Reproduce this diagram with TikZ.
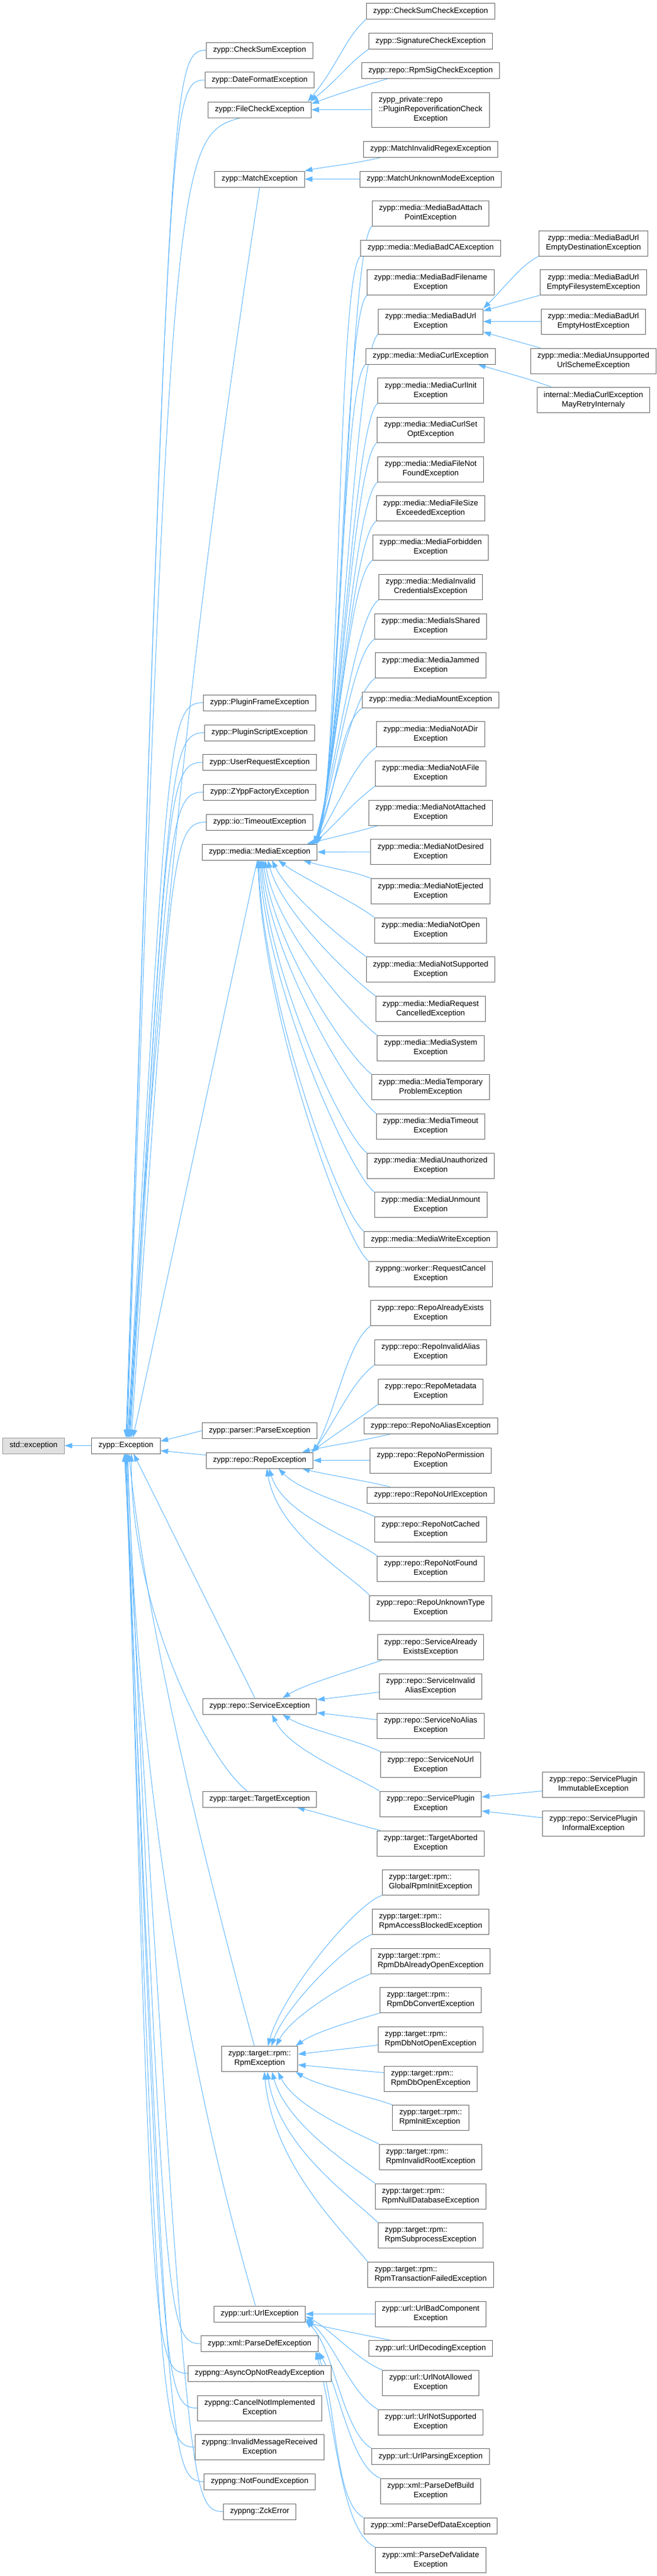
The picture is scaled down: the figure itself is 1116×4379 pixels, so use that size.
\documentclass[tikz,border=0pt]{standalone}
\usepackage{fontspec}
\setmainfont{Liberation Sans}
\usetikzlibrary{arrows.meta,calc,backgrounds}
\definecolor{edgeblue}{HTML}{63B8FF}
\definecolor{nodeborder}{HTML}{666666}
\definecolor{extfill}{HTML}{E0E0E0}
\definecolor{extborder}{HTML}{999999}
\tikzset{
  cls/.style={draw=nodeborder, fill=white, line width=1pt, font=\fontsize{13.2}{16}\selectfont,
    inner xsep=11.5pt, inner ysep=0pt, minimum height=27pt, align=center},
  lines2/.style={minimum height=43pt},
  lines3/.style={minimum height=59pt},
  ext/.style={cls, fill=extfill, draw=extborder},
  inh/.style={draw=edgeblue, line width=1pt, -{Triangle[length=13pt,width=9pt]}},
  bendD/.style={to path={.. controls ($(\tikztostart)+(-60,0)$) and ($(\tikztostart)+(-60,60)$) .. (\tikztotarget) \tikztonodes}},
  bendU/.style={to path={.. controls ($(\tikztostart)+(-60,0)$) and ($(\tikztostart)+(-60,-60)$) .. (\tikztotarget) \tikztonodes}}
}
\begin{document}
\begin{tikzpicture}[x=1pt,y=-1pt]
\useasboundingbox (0,0) rectangle (1116,4379);
% column 1 and 2
\node[ext] (stdex) at (57,2457.5) {std::exception};
\node[cls] (zexc) at (214,2457.5) {zypp::Exception};
% column 3
\node[cls] (checksum) at (441,85.5) {zypp::CheckSumException};
\node[cls] (dateformat) at (441,136) {zypp::DateFormatException};
\node[cls] (filecheck) at (441,186.5) {zypp::FileCheckException};
\node[cls] (match) at (441,304.5) {zypp::MatchException};
\node[cls] (pluginframe) at (441,1194.5) {zypp::PluginFrameException};
\node[cls] (pluginscript) at (441,1245.5) {zypp::PluginScriptException};
\node[cls] (userrequest) at (441,1296) {zypp::UserRequestException};
\node[cls] (zyppfactory) at (441,1346.5) {zypp::ZYppFactoryException};
\node[cls] (iotimeout) at (441,1397.5) {zypp::io::TimeoutException};
\node[cls] (mediaexc) at (441,1448.5) {zypp::media::MediaException};
\node[cls] (parse) at (441,2432) {zypp::parser::ParseException};
\node[cls] (repoexc) at (441,2482.5) {zypp::repo::RepoException};
\node[cls] (serviceexc) at (441,2900.5) {zypp::repo::ServiceException};
\node[cls] (targetexc) at (441,3058.5) {zypp::target::TargetException};
\node[cls,lines2] (rpmexc) at (441,3500) {zypp::target::rpm::\\RpmException};
\node[cls] (urlexc) at (441,3933.5) {zypp::url::UrlException};
\node[cls] (parsedef) at (441,3984) {zypp::xml::ParseDefException};
\node[cls] (asyncop) at (441,4034.5) {zyppng::AsyncOpNotReadyException};
\node[cls,lines2] (cancelni) at (441,4093.5) {zyppng::CancelNotImplemented\\Exception};
\node[cls,lines2] (invalidmsg) at (441,4160) {zyppng::InvalidMessageReceived\\Exception};
\node[cls] (notfound) at (441,4218.5) {zyppng::NotFoundException};
\node[cls] (zckerror) at (441,4269.5) {zyppng::ZckError};
% column 4
\node[cls] (cscheck) at (731.5,19) {zypp::CheckSumCheckException};
\node[cls] (sigcheck) at (731.5,70) {zypp::SignatureCheckException};
\node[cls] (rpmsig) at (731.5,120) {zypp::repo::RpmSigCheckException};
\node[cls,lines3] (pluginrepo) at (731.5,186.5) {\rlap{zypp\_private::repo}\phantom{::PluginRepoverificationCheck}\\::PluginRepoverificationCheck\\Exception};
\node[cls] (matchinvalid) at (731.5,253.5) {zypp::MatchInvalidRegexException};
\node[cls] (matchunknown) at (731.5,304.5) {zypp::MatchUnknownModeException};
\node[cls,lines2] (badattach) at (731.5,362.5) {zypp::media::MediaBadAttach\\PointException};
\node[cls] (badca) at (731.5,421.5) {zypp::media::MediaBadCAException};
\node[cls,lines2] (badfilename) at (731.5,480) {zypp::media::MediaBadFilename\\Exception};
\node[cls,lines2] (badurl) at (731.5,546.5) {zypp::media::MediaBadUrl\\Exception};
\node[cls] (curl) at (731.5,605.5) {zypp::media::MediaCurlException};
\node[cls,lines2] (curlinit) at (731.5,664) {zypp::media::MediaCurlInit\\Exception};
\node[cls,lines2] (curlsetopt) at (731.5,730.5) {zypp::media::MediaCurlSet\\OptException};
\node[cls,lines2] (filenotfound) at (731.5,797.5) {zypp::media::MediaFileNot\\FoundException};
\node[cls,lines2] (filesize) at (731.5,864) {zypp::media::MediaFileSize\\ExceededException};
\node[cls,lines2] (forbidden) at (731.5,930.5) {zypp::media::MediaForbidden\\Exception};
\node[cls,lines2] (invalidcred) at (731.5,997.5) {zypp::media::MediaInvalid\\CredentialsException};
\node[cls,lines2] (isshared) at (731.5,1064.5) {zypp::media::MediaIsShared\\Exception};
\node[cls,lines2] (jammed) at (731.5,1131) {zypp::media::MediaJammed\\Exception};
\node[cls] (mount) at (731.5,1189.5) {zypp::media::MediaMountException};
\node[cls,lines2] (notadir) at (731.5,1248) {zypp::media::MediaNotADir\\Exception};
\node[cls,lines2] (notafile) at (731.5,1314.5) {zypp::media::MediaNotAFile\\Exception};
\node[cls,lines2] (notattached) at (731.5,1381.5) {zypp::media::MediaNotAttached\\Exception};
\node[cls,lines2] (notdesired) at (731.5,1448) {zypp::media::MediaNotDesired\\Exception};
\node[cls,lines2] (notejected) at (731.5,1515) {zypp::media::MediaNotEjected\\Exception};
\node[cls,lines2] (notopen) at (731.5,1581.5) {zypp::media::MediaNotOpen\\Exception};
\node[cls,lines2] (notsupported) at (731.5,1648) {zypp::media::MediaNotSupported\\Exception};
\node[cls,lines2] (reqcancelled) at (731.5,1715) {zypp::media::MediaRequest\\CancelledException};
\node[cls,lines2] (system) at (731.5,1781.5) {zypp::media::MediaSystem\\Exception};
\node[cls,lines2] (temporary) at (731.5,1848) {zypp::media::MediaTemporary\\ProblemException};
\node[cls,lines2] (timeout) at (731.5,1914.5) {zypp::media::MediaTimeout\\Exception};
\node[cls,lines2] (unauthorized) at (731.5,1981.5) {zypp::media::MediaUnauthorized\\Exception};
\node[cls,lines2] (unmount) at (731.5,2048) {zypp::media::MediaUnmount\\Exception};
\node[cls] (write) at (731.5,2107) {zypp::media::MediaWriteException};
\node[cls,lines2] (workercancel) at (731.5,2165.5) {zyppng::worker::RequestCancel\\Exception};
\node[cls,lines2] (repoalready) at (731.5,2232) {zypp::repo::RepoAlreadyExists\\Exception};
\node[cls,lines2] (repoinvalid) at (731.5,2298.5) {zypp::repo::RepoInvalidAlias\\Exception};
\node[cls,lines2] (repometa) at (731.5,2365.5) {zypp::repo::RepoMetadata\\Exception};
\node[cls] (reponoalias) at (731.5,2424) {zypp::repo::RepoNoAliasException};
\node[cls,lines2] (reponoperm) at (731.5,2482.5) {zypp::repo::RepoNoPermission\\Exception};
\node[cls] (reponourl) at (731.5,2541.5) {zypp::repo::RepoNoUrlException};
\node[cls,lines2] (reponotcached) at (731.5,2600) {zypp::repo::RepoNotCached\\Exception};
\node[cls,lines2] (reponotfound) at (731.5,2666.5) {zypp::repo::RepoNotFound\\Exception};
\node[cls,lines2] (repounknown) at (731.5,2733.5) {zypp::repo::RepoUnknownType\\Exception};
\node[cls,lines2] (svcalready) at (731.5,2800) {zypp::repo::ServiceAlready\\ExistsException};
\node[cls,lines2] (svcinvalid) at (731.5,2866.5) {zypp::repo::ServiceInvalid\\AliasException};
\node[cls,lines2] (svcnoalias) at (731.5,2933.5) {zypp::repo::ServiceNoAlias\\Exception};
\node[cls,lines2] (svcnourl) at (731.5,3000) {zypp::repo::ServiceNoUrl\\Exception};
\node[cls,lines2] (svcplugin) at (731.5,3066.5) {zypp::repo::ServicePlugin\\Exception};
\node[cls,lines2] (targetaborted) at (731.5,3133.5) {zypp::target::TargetAborted\\Exception};
\node[cls,lines2,align=left] (globalrpm) at (731.5,3200) {zypp::target::rpm::\\GlobalRpmInitException};
\node[cls,lines2,align=left] (rpmaccess) at (731.5,3266.5) {zypp::target::rpm::\\RpmAccessBlockedException};
\node[cls,lines2,align=left] (rpmdbalready) at (731.5,3333.5) {zypp::target::rpm::\\RpmDbAlreadyOpenException};
\node[cls,lines2,align=left] (rpmdbconvert) at (731.5,3400) {zypp::target::rpm::\\RpmDbConvertException};
\node[cls,lines2,align=left] (rpmdbnotopen) at (731.5,3466.5) {zypp::target::rpm::\\RpmDbNotOpenException};
\node[cls,lines2,align=left] (rpmdbopen) at (731.5,3533.5) {zypp::target::rpm::\\RpmDbOpenException};
\node[cls,lines2,align=left] (rpminit) at (731.5,3600) {zypp::target::rpm::\\RpmInitException};
\node[cls,lines2,align=left] (rpminvalidroot) at (731.5,3666.5) {zypp::target::rpm::\\RpmInvalidRootException};
\node[cls,lines2,align=left] (rpmnulldb) at (731.5,3733.5) {zypp::target::rpm::\\RpmNullDatabaseException};
\node[cls,lines2,align=left] (rpmsubprocess) at (731.5,3800) {zypp::target::rpm::\\RpmSubprocessException};
\node[cls,lines2,align=left] (rpmtransaction) at (731.5,3866.5) {zypp::target::rpm::\\RpmTransactionFailedException};
\node[cls,lines2] (urlbadcomp) at (731.5,3933.5) {zypp::url::UrlBadComponent\\Exception};
\node[cls] (urldecoding) at (731.5,3992) {zypp::url::UrlDecodingException};
\node[cls,lines2] (urlnotallowed) at (731.5,4050.5) {zypp::url::UrlNotAllowed\\Exception};
\node[cls,lines2] (urlnotsupported) at (731.5,4117.5) {zypp::url::UrlNotSupported\\Exception};
\node[cls] (urlparsing) at (731.5,4176) {zypp::url::UrlParsingException};
\node[cls,lines2] (pdbuild) at (731.5,4234.5) {zypp::xml::ParseDefBuild\\Exception};
\node[cls] (pddata) at (731.5,4293.5) {zypp::xml::ParseDefDataException};
\node[cls,lines2] (pdvalidate) at (731.5,4352) {zypp::xml::ParseDefValidate\\Exception};
% column 5
\node[cls,lines2] (emptydest) at (1008,413.5) {zypp::media::MediaBadUrl\\EmptyDestinationException};
\node[cls,lines2] (emptyfs) at (1008,480) {zypp::media::MediaBadUrl\\EmptyFilesystemException};
\node[cls,lines2] (emptyhost) at (1008,546.5) {zypp::media::MediaBadUrl\\EmptyHostException};
\node[cls,lines2] (unsupported) at (1008,613.5) {zypp::media::MediaUnsupported\\UrlSchemeException};
\node[cls,lines2] (mayretry) at (1008,680) {internal::MediaCurlException\\MayRetryInternaly};
\node[cls,lines2] (svcimmutable) at (1008,3033.5) {zypp::repo::ServicePlugin\\ImmutableException};
\node[cls,lines2] (svcinformal) at (1008,3100) {zypp::repo::ServicePlugin\\InformalException};

\begin{pgfonlayer}{background}
\draw[inh] (zexc.west) -- (stdex.east);
% children of zypp::Exception above it
\draw[inh] (checksum.west) to[bendD] ([xshift=0pt]zexc.north);
\draw[inh] (dateformat.west) to[bendD] ([xshift=1pt]zexc.north);
\draw[inh] ([xshift=-33pt]filecheck.south) .. controls (300,230) and (290,260) .. ([xshift=2pt]zexc.north);
\draw[inh] (match.south) .. controls (332,1017) and (257,1744) .. ([xshift=4pt]zexc.north);
\draw[inh] (pluginframe.west) to[bendD] ([xshift=3pt]zexc.north);
\draw[inh] (pluginscript.west) to[bendD] ([xshift=5pt]zexc.north);
\draw[inh] (userrequest.west) to[bendD] ([xshift=6pt]zexc.north);
\draw[inh] (zyppfactory.west) to[bendD] ([xshift=7pt]zexc.north);
\draw[inh] (iotimeout.west) to[bendD] ([xshift=9pt]zexc.north);
\draw[inh] ([xshift=-4pt]mediaexc.south) -- ([xshift=12pt]zexc.north);
% children of zypp::Exception beside and below it
\draw[inh] (parse.west) -- ([yshift=7.5pt]zexc.east);
\draw[inh] ([yshift=9pt]repoexc.west) -- ([yshift=-8.5pt]zexc.east);
\draw[inh] ([xshift=-8pt]serviceexc.north) -- ([xshift=13pt]zexc.south);
\draw[inh] ([xshift=-21pt]targetexc.north) .. controls (360,3000) and (223,2750) .. ([xshift=9pt]zexc.south);
\draw[inh] ([xshift=-9pt]rpmexc.north) .. controls (351,3179) and (249,2771) .. ([xshift=5pt]zexc.south);
\draw[inh] ([xshift=-7pt]urlexc.north) .. controls (303,3470) and (230,2950) .. ([xshift=3pt]zexc.south);
\draw[inh] (parsedef.west) to[bendU] ([xshift=2pt]zexc.south);
\draw[inh] (asyncop.west) to[bendU] ([xshift=1pt]zexc.south);
\draw[inh] (cancelni.west) to[bendU] ([xshift=0pt]zexc.south);
\draw[inh] (invalidmsg.west) to[bendU] ([xshift=-1pt]zexc.south);
\draw[inh] (notfound.west) to[bendU] ([xshift=-2pt]zexc.south);
\draw[inh] (zckerror.west) to[bendU] ([xshift=-3pt]zexc.south);
% FileCheckException
\draw[inh] (cscheck.south west) .. controls +(-35,30) and +(50,-60) .. ([xshift=-6pt]filecheck.north east);
\draw[inh] (sigcheck.south west) .. controls +(-30,20) and +(50,-40) .. ([xshift=-2pt]filecheck.north east);
\draw[inh] ([xshift=44pt]rpmsig.south west) .. controls +(-50,15) and +(40,-15) .. ([yshift=-4pt]filecheck.north east);
\draw[inh] (pluginrepo.west) -- (filecheck.east);
% MatchException
\draw[inh] ([xshift=31pt]matchinvalid.south west) .. controls +(-50,12) and +(40,-8) .. (match.north east);
\draw[inh] (matchunknown.west) -- (match.east);
% MediaBadUrlException, MediaCurlException
\draw[inh] (emptydest.south west) .. controls +(-30,15) and +(40,-40) .. (badurl.north east);
\draw[inh] (emptyfs.south west) -- ([yshift=-4pt]badurl.north east);
\draw[inh] (emptyhost.west) -- (badurl.east);
\draw[inh] ([xshift=17pt]unsupported.north west) -- ([yshift=4pt]badurl.south east);
\draw[inh] ([xshift=25pt]mayretry.north west) .. controls +(-40,-15) and +(50,15) .. ([xshift=-30pt]curl.south east);
% MediaException
\foreach \n/\k/\v in {badattach/0/150, badca/0.5/150, badfilename/1/150, badurl/1.5/150, curl/2/150, curlinit/2.5/150, curlsetopt/3/150, filenotfound/3.5/150, filesize/4/150, forbidden/4.5/150, invalidcred/5/146, isshared/5.5/123, jammed/6/100, mount/6.5/82, notadir/7/58, notafile/7.5/35}
  \draw[inh] (\n.south west) .. controls +(-40,30) and +(40,-\v) .. ([xshift=-\k pt]mediaexc.north east);
\draw[inh] ([xshift=16pt]notattached.south west) .. controls +(-40,12) and +(40,-10) .. ([xshift=-18pt]mediaexc.north east);
\draw[inh] (notdesired.west) -- (mediaexc.east);
\draw[inh] (notejected.north west) .. controls +(-30,-12) and +(40,12) .. ([xshift=-24pt]mediaexc.south east);
\foreach \n/\k/\a/\v in {notopen/32/40/30, notsupported/21/30/60, reqcancelled/14/25/90, system/9/20/120, temporary/6/20/150, timeout/4/15/170, unauthorized/2/15/200, unmount/0/12/220, write/-2/10/250, workercancel/-3/10/270}
  \draw[inh] (\n.north west) .. controls +(-40,-30) and +(\a,\v) .. ([xshift=\k pt]mediaexc.south);
% RepoException
\foreach \n/\k/\v in {repoalready/0/75, repoinvalid/2/52, repometa/4/30}
  \draw[inh] (\n.south west) .. controls +(-40,30) and +(40,-\v) .. ([xshift=-\k pt]repoexc.north east);
\draw[inh] ([xshift=45pt]reponoalias.south west) .. controls +(-50,12) and +(40,-10) .. ([xshift=-19pt]repoexc.north east);
\draw[inh] (reponoperm.west) -- (repoexc.east);
\draw[inh] ([xshift=39pt]reponourl.north west) .. controls +(-50,-12) and +(40,10) .. ([xshift=-19pt]repoexc.south east);
\draw[inh] (reponotcached.north west) .. controls +(-40,-20) and +(40,40) .. ([xshift=32pt]repoexc.south);
\draw[inh] (reponotfound.north west) .. controls +(-40,-30) and +(25,80) .. ([xshift=16pt]repoexc.south);
\draw[inh] (repounknown.north west) .. controls +(-40,-40) and +(20,110) .. ([xshift=12pt]repoexc.south);
% ServiceException
\draw[inh] ([xshift=8pt]svcalready.south west) .. controls +(-40,15) and +(40,-25) .. ([xshift=39pt]serviceexc.north);
\draw[inh] ([yshift=-10pt]svcinvalid.west) -- ([yshift=-3pt]serviceexc.north east);
\draw[inh] ([yshift=10pt]svcnoalias.west) -- ([yshift=3pt]serviceexc.south east);
\draw[inh] ([xshift=1pt]svcnourl.north west) .. controls +(-40,-20) and +(40,25) .. ([xshift=39pt]serviceexc.south);
\draw[inh] (svcplugin.north west) .. controls +(-50,-30) and +(30,60) .. ([xshift=21pt]serviceexc.south);
\draw[inh] ([yshift=-11pt]svcimmutable.west) -- ([yshift=12pt]svcplugin.east);
\draw[inh] ([yshift=10pt]svcinformal.west) -- ([yshift=-12pt]svcplugin.east);
% TargetException
\draw[inh] ([xshift=6pt]targetaborted.north west) .. controls +(-40,-10) and +(40,10) .. ([xshift=-34pt]targetexc.south east);
% RpmException
\draw[inh] (globalrpm.south west) .. controls +(-45,15) and +(25,-90) .. ([xshift=14pt]rpmexc.north);
\draw[inh] (rpmaccess.south west) .. controls +(-40,15) and +(25,-70) .. ([xshift=20pt]rpmexc.north);
\draw[inh] (rpmdbalready.south west) .. controls +(-40,15) and +(25,-50) .. ([xshift=28pt]rpmexc.north);
\draw[inh] (rpmdbconvert.south west) .. controls +(-40,12) and +(35,-25) .. ([xshift=-4pt]rpmexc.north east);
\draw[inh] ([yshift=-10pt]rpmdbnotopen.west) -- ([yshift=8pt]rpmexc.east);
\draw[inh] ([yshift=10pt]rpmdbopen.west) -- ([yshift=-10pt]rpmexc.east);
\draw[inh] (rpminit.north west) .. controls +(-40,-15) and +(40,25) .. ([xshift=-4pt]rpmexc.south east);
\draw[inh] (rpminvalidroot.north west) .. controls +(-40,-20) and +(30,60) .. ([xshift=31pt]rpmexc.south);
\draw[inh] (rpmnulldb.north west) .. controls +(-40,-30) and +(25,90) .. ([xshift=21pt]rpmexc.south);
\draw[inh] (rpmsubprocess.north west) .. controls +(-40,-40) and +(20,130) .. ([xshift=13pt]rpmexc.south);
\draw[inh] (rpmtransaction.north west) .. controls +(-40,-50) and +(15,160) .. ([xshift=8pt]rpmexc.south);
% UrlException
\draw[inh] (urlbadcomp.west) -- (urlexc.east);
\draw[inh] ([xshift=37pt]urldecoding.north west) .. controls +(-50,-10) and +(40,10) .. (urlexc.south east);
\draw[inh] (urlnotallowed.north west) .. controls +(-40,-15) and +(40,20) .. ([yshift=-4pt]urlexc.east);
\draw[inh] (urlnotsupported.north west) .. controls +(-45,-25) and +(45,35) .. ([yshift=-8pt]urlexc.east);
\draw[inh] (urlparsing.north west) .. controls +(-50,-30) and +(50,50) .. ([yshift=-11pt]urlexc.east);
% ParseDefException
\draw[inh] (pdbuild.north west) .. controls +(-50,-20) and +(35,60) .. (parsedef.south east);
\draw[inh] (pddata.north west) .. controls +(-50,-25) and +(35,90) .. ([xshift=-3pt]parsedef.south east);
\draw[inh] (pdvalidate.north west) .. controls +(-60,-30) and +(35,120) .. ([xshift=-5pt]parsedef.south east);
\end{pgfonlayer}
\end{tikzpicture}
\end{document}
